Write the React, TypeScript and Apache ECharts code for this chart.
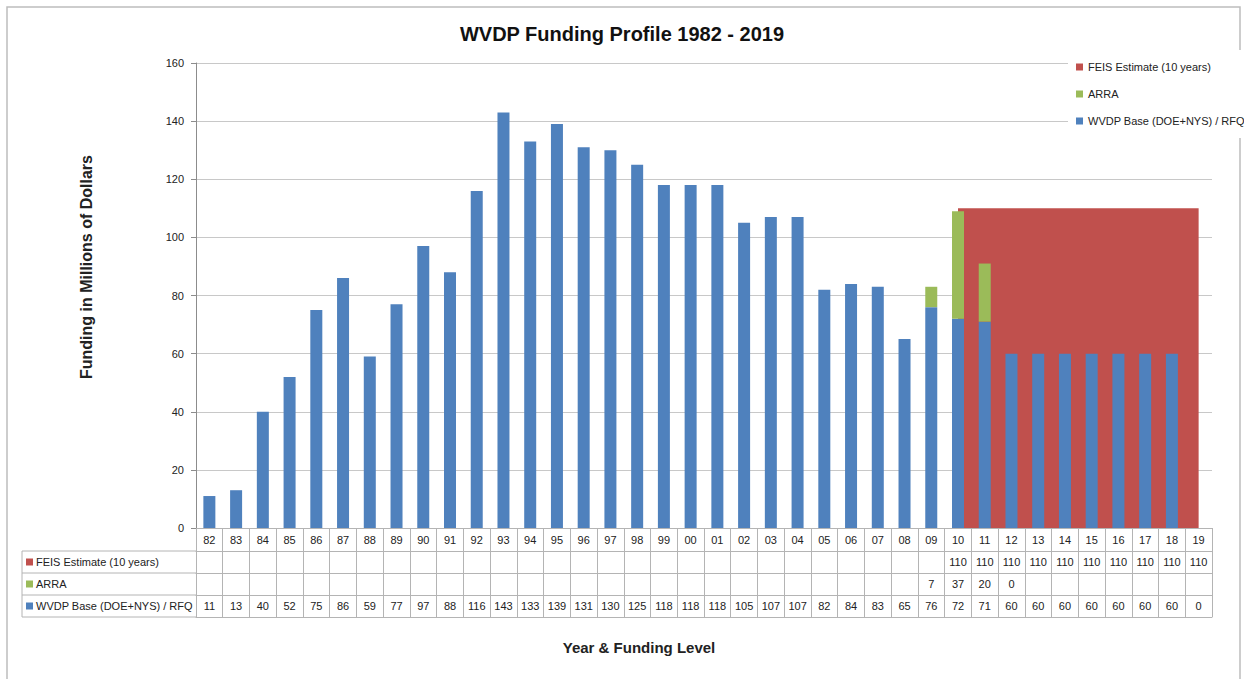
import React, { useEffect, useRef } from "react";
import * as echarts from "echarts";

const years = ["82","83","84","85","86","87","88","89","90","91","92","93","94","95","96","97","98","99","00","01","02","03","04","05","06","07","08","09","10","11","12","13","14","15","16","17","18","19"];
const baseValues = [11,13,40,52,75,86,59,77,97,88,116,143,133,139,131,130,125,118,118,118,105,107,107,82,84,83,65,76,72,71,60,60,60,60,60,60,60,0];
const arraValues: (number | null)[] = [null,null,null,null,null,null,null,null,null,null,null,null,null,null,null,null,null,null,null,null,null,null,null,null,null,null,null,7,37,20,0,null,null,null,null,null,null,null];
const feisValues: (number | null)[] = [null,null,null,null,null,null,null,null,null,null,null,null,null,null,null,null,null,null,null,null,null,null,null,null,null,null,null,null,110,110,110,110,110,110,110,110,110,110];
const yTicks = { min: 0, max: 160, interval: 20 };

const seriesNames = ["FEIS Estimate (10 years)", "ARRA", "WVDP Base (DOE+NYS) / RFQ"];
const colors = ["#C0504D", "#9BBB59", "#4F81BD"];
const tableRows = [feisValues, arraValues, baseValues];

const FONT = "Liberation Sans";
const GRID_LEFT = 196;
const GRID_RIGHT = 1212;
const GRID_TOP = 63;
const GRID_BOTTOM = 528;
const YEAR_ROW_H = 23;
const ROW_H = 22;
const TABLE_LEFT = 22;
const LINE = "#b4b4b4";

export default function App() {
  const ref = useRef<HTMLDivElement>(null);
  useEffect(() => {
    if (!ref.current) return;
    const chart = echarts.init(ref.current, null, { renderer: "svg" });
    const W = 1244, H = 679;

    const xAxes: any[] = [];
    xAxes.push({
      type: "category",
      data: years,
      position: "bottom",
      boundaryGap: true,
      axisLine: { show: true, lineStyle: { color: LINE } },
      axisTick: { show: true, interval: 0, length: YEAR_ROW_H, lineStyle: { color: LINE } },
      axisLabel: { interval: 0, margin: 6, fontSize: 11, color: "#222", fontFamily: FONT },
    });
    tableRows.forEach((row, r) => {
      xAxes.push({
        type: "category",
        data: years,
        position: "bottom",
        offset: YEAR_ROW_H + r * ROW_H,
        boundaryGap: true,
        axisLine: { show: true, lineStyle: { color: LINE } },
        axisTick: { show: true, interval: 0, length: ROW_H, lineStyle: { color: LINE } },
        axisLabel: {
          interval: 0,
          margin: 5,
          fontSize: 11,
          color: "#222",
          fontFamily: FONT,
          formatter: (_v: string, i: number) => (row[i] === null || row[i] === undefined ? "" : String(row[i])),
        },
      });
    });
    xAxes.push({
      type: "category",
      data: years,
      position: "bottom",
      offset: YEAR_ROW_H + 3 * ROW_H,
      axisLine: { show: true, lineStyle: { color: LINE } },
      axisTick: { show: false },
      axisLabel: { show: false },
    });

    const graphics: any[] = [];
    graphics.push({
      type: "rect",
      shape: { x: 7, y: 7, width: 1233, height: 700 },
      style: { fill: "none", stroke: "#bdbdbd", lineWidth: 1.5 },
      silent: true,
    });
    const tTop = GRID_BOTTOM + YEAR_ROW_H;
    for (let r = 0; r <= 3; r++) {
      graphics.push({
        type: "line",
        shape: { x1: TABLE_LEFT, y1: tTop + r * ROW_H, x2: GRID_LEFT, y2: tTop + r * ROW_H },
        style: { stroke: LINE, lineWidth: 1 },
      });
    }
    graphics.push({
      type: "line",
      shape: { x1: TABLE_LEFT, y1: tTop, x2: TABLE_LEFT, y2: tTop + 3 * ROW_H },
      style: { stroke: LINE, lineWidth: 1 },
    });
    seriesNames.forEach((name, r) => {
      const cy = tTop + r * ROW_H + ROW_H / 2;
      graphics.push({
        type: "rect",
        shape: { x: TABLE_LEFT + 4, y: cy - 3.5, width: 7, height: 7 },
        style: { fill: colors[r] },
      });
      graphics.push({
        type: "text",
        x: TABLE_LEFT + 14,
        y: cy,
        style: { text: name, fontSize: 11, fontFamily: FONT, fill: "#222", verticalAlign: "middle", align: "left" },
      });
    });
    graphics.push({
      type: "text",
      x: 639,
      y: 647,
      style: { text: "Year & Funding Level", fontSize: 15, fontWeight: "bold", fontFamily: FONT, fill: "#222", align: "center", verticalAlign: "middle" },
    });
    graphics.push({
      type: "text",
      x: 86,
      y: 267,
      rotation: Math.PI / 2,
      style: { text: "Funding in Millions of Dollars", fontSize: 16, fontWeight: "bold", fontFamily: FONT, fill: "#222", align: "center", verticalAlign: "middle" },
    });

    chart.setOption({
      animation: false,
      backgroundColor: "#fff",
      title: {
        text: "WVDP Funding Profile 1982 - 2019",
        left: "center",
        top: 19,
        textStyle: { fontSize: 20, fontWeight: "bold", fontFamily: FONT, color: "#111" },
      },
      legend: {
        orient: "vertical",
        left: 1068,
        top: 50,
        data: seriesNames,
        icon: "rect",
        itemWidth: 7,
        itemHeight: 7,
        itemGap: 13,
        padding: [10, 4, 10, 8],
        backgroundColor: "#fff",
        textStyle: { fontSize: 11, fontFamily: FONT, color: "#222", lineHeight: 14 },
      },
      grid: { left: GRID_LEFT, right: W - GRID_RIGHT, top: GRID_TOP, bottom: H - GRID_BOTTOM, containLabel: false },
      xAxis: xAxes,
      yAxis: {
        type: "value",
        min: yTicks.min,
        max: yTicks.max,
        interval: yTicks.interval,
        axisLine: { show: true, lineStyle: { color: "#8c8c8c" } },
        axisTick: { show: true, length: 5, lineStyle: { color: "#8c8c8c" } },
        axisLabel: { margin: 12, fontSize: 11, color: "#222", fontFamily: FONT },
        splitLine: { show: true, lineStyle: { color: "#c8c8c8" } },
      },
      graphic: graphics,
      series: [
        {
          name: seriesNames[0],
          type: "line",
          xAxisIndex: 0,
          data: feisValues,
          symbol: "none",
          connectNulls: false,
          lineStyle: { width: 0, color: colors[0] },
          itemStyle: { color: colors[0] },
          areaStyle: { color: colors[0], opacity: 1 },
          z: 1,
        },
        {
          name: seriesNames[2],
          type: "bar",
          stack: "total",
          xAxisIndex: 0,
          data: baseValues,
          barWidth: 12,
          itemStyle: { color: colors[2] },
          z: 3,
        },
        {
          name: seriesNames[1],
          type: "bar",
          stack: "total",
          xAxisIndex: 0,
          data: arraValues,
          barWidth: 12,
          itemStyle: { color: colors[1] },
          z: 3,
        },
      ],
    });
    return () => chart.dispose();
  }, []);
  return <div ref={ref} style={{ position: "fixed", left: 0, top: 0, width: 1244, height: 679 }} />;
}
